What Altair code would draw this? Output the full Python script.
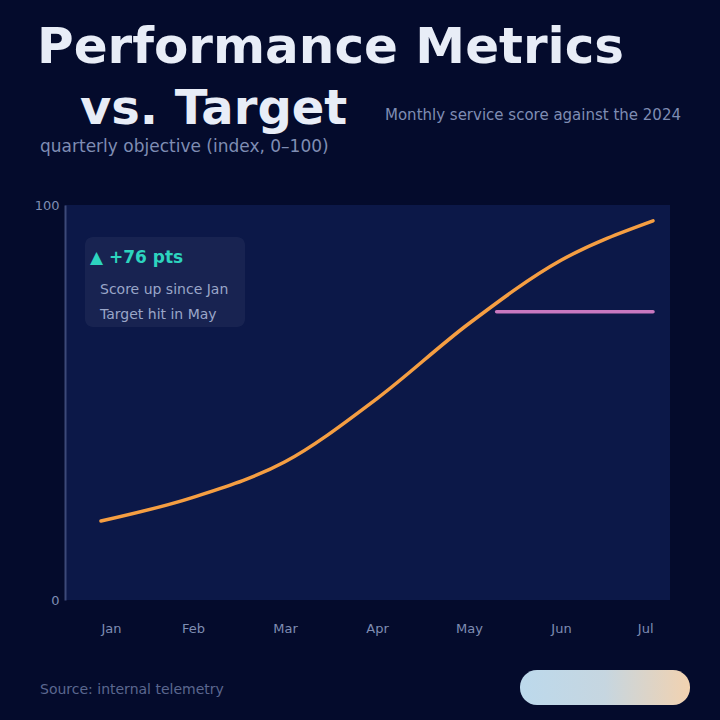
import altair as alt
import pandas as pd

# ---- page background (removes the white 8px body margin) ----
try:
    import altair.utils.html as _h
    _orig = _h.TEMPLATES["standard"]

    class _Wrapped:
        def render(self, *a, **k):
            s = _orig.render(*a, **k)
            return s.replace(
                "<head>",
                "<head><style>html,body{margin:0;padding:0;background:#040b2c;overflow:hidden}</style>",
                1,
            )

    _h.TEMPLATES["standard"] = _Wrapped()
except Exception:
    pass

# ---- data ----
months = ["Jan", "Feb", "Mar", "Apr", "May", "Jun", "Jul"]
month_index = [1, 2, 3, 4, 5, 6, 7]
score = [20, 26, 35, 51, 70, 86, 96]
target_x = [5.3, 7.0]
target = [73, 73]
series_names = ["Score", "Target"]
series_colors = ["#f59e42", "#c978c0"]

title_line1 = "Performance Metrics"
title_line2 = "vs. Target"
subtitle_a = "Monthly service score against the 2024"
subtitle_b = "quarterly objective (index, 0–100)"
note_head = "▲ +76 pts"
note_lines = ["Score up since Jan", "Target hit in May"]
source_text = "Source: internal telemetry"

BG = "#040b2c"
PLOT_BG = "#0c1848"
MUTED = "#7f8db3"
FONT = "DejaVu Sans"

lines_df = pd.DataFrame(
    {
        "x": month_index + target_x,
        "value": score + target,
        "series": [series_names[0]] * len(month_index) + [series_names[1]] * len(target_x),
    }
)

label_expr = "[" + ",".join("'" + m + "'" for m in months) + "][datum.value - 1]"

lines = (
    alt.Chart(lines_df)
    .mark_line(strokeWidth=3.5, interpolate="monotone", strokeCap="round")
    .encode(
        x=alt.X(
            "x:Q",
            scale=alt.Scale(domain=[1, 7], range=[36, 588]),
            axis=alt.Axis(
                title=None,
                values=month_index,
                labelExpr=label_expr,
                labelAngle=0,
                grid=False,
                domain=False,
                ticks=False,
                labelPadding=22,
                labelColor=MUTED,
                labelFontSize=13,
                labelFont=FONT,
            ),
        ),
        y=alt.Y(
            "value:Q",
            scale=alt.Scale(domain=[0, 100]),
            axis=alt.Axis(
                title=None,
                values=[0, 100],
                grid=False,
                ticks=False,
                domainColor="#3c4978",
                domainWidth=2,
                labelColor=MUTED,
                labelFontSize=13,
                labelFont=FONT,
                labelPadding=6,
            ),
        ),
        color=alt.Color(
            "series:N",
            scale=alt.Scale(domain=series_names, range=series_colors),
            legend=None,
        ),
        detail="series:N",
    )
)


def text_layer(txt, x, y, size, color, weight="normal", align="left"):
    return (
        alt.Chart(pd.DataFrame({"t": [txt]}))
        .mark_text(
            align=align,
            baseline="middle",
            fontSize=size,
            fontWeight=weight,
            color=color,
            font=FONT,
        )
        .encode(x=alt.value(x), y=alt.value(y), text="t:N")
    )


one = pd.DataFrame({"k": [0]})

note_box = (
    alt.Chart(one)
    .mark_rect(color="#ffffff", opacity=0.05, cornerRadius=8)
    .encode(x=alt.value(20), x2=alt.value(180), y=alt.value(32), y2=alt.value(122))
)

pill = (
    alt.Chart(one)
    .mark_rect(
        cornerRadius=17,
        color=alt.LinearGradient(
            gradient="linear",
            stops=[
                alt.GradientStop(color="#bcd9ec", offset=0),
                alt.GradientStop(color="#c6d6e0", offset=0.5),
                alt.GradientStop(color="#f2d2b0", offset=1),
            ],
            x1=0,
            x2=1,
            y1=0,
            y2=0,
        ),
    )
    .encode(x=alt.value(455), x2=alt.value(625), y=alt.value(465), y2=alt.value(500))
)

chart = (
    alt.layer(
        note_box,
        lines,
        text_layer(title_line1, -28, -157, 50, "#e8edf7", "bold"),
        text_layer(title_line2, 15, -95, 48, "#e8edf7", "bold"),
        text_layer(subtitle_a, 320, -90, 15, MUTED),
        text_layer(subtitle_b, -25, -58, 17, MUTED),
        text_layer(note_head, 25, 53, 17, "#2dd4bf", "bold"),
        text_layer(note_lines[0], 35, 85, 14, "#9aa6c8"),
        text_layer(note_lines[1], 35, 110, 14, "#9aa6c8"),
        text_layer(source_text, -25, 485, 14, "#5b678f"),
        pill,
    )
    .properties(
        width=605,
        height=395,
        padding={"left": 65, "top": 205, "right": 42, "bottom": 112},
        autosize=alt.AutoSizeParams(type="none"),
        background=BG,
    )
    .configure_view(fill=PLOT_BG, strokeWidth=0)
)

chart.save("out.html", embed_options={"renderer": "svg", "actions": False})
